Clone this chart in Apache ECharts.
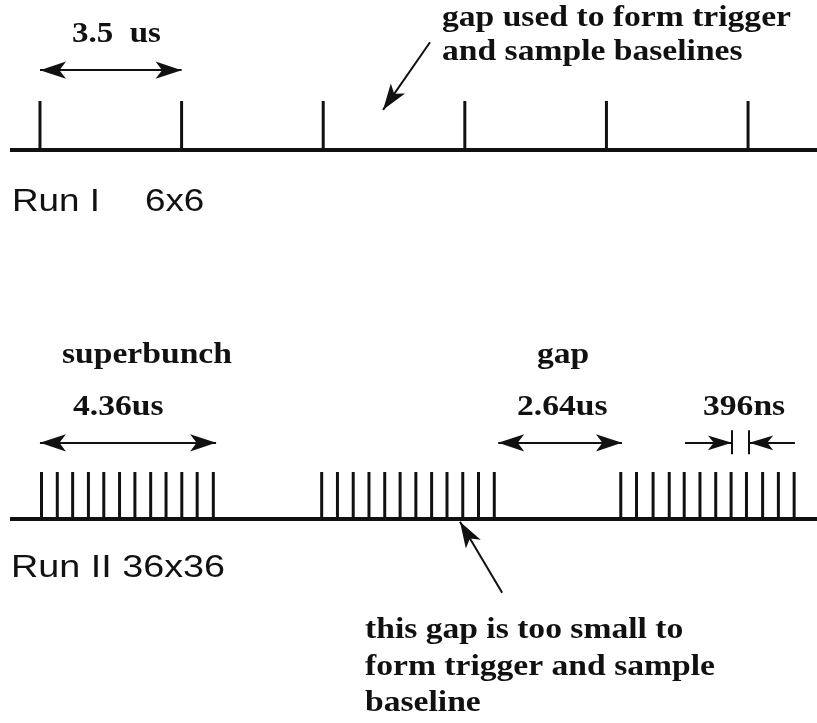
<!DOCTYPE html>
<html>
<head>
<meta charset="utf-8">
<script src="https://cdn.jsdelivr.net/npm/echarts@6/dist/echarts.min.js"></script>
<style>
html, body { margin: 0; padding: 0; background: #fff; }
#chart { width: 817px; height: 723px; }
</style>
</head>
<body>
<div id="chart"></div>
<script>
// Run I 6x6 : bunch times (us)
var runIBunches = [0, 3.5, 7, 10.5, 14, 17.5];
// Run II 36x36 : three superbunches of 12 bunches (us)
var runIITrain1 = [0, 0.40, 0.79, 1.19, 1.58, 1.98, 2.37, 2.77, 3.16, 3.56, 3.95, 4.36];
var runIITrain2 = [7.11, 7.51, 7.91, 8.31, 8.71, 9.10, 9.50, 9.90, 10.29, 10.69, 11.09, 11.49];
var runIITrain3 = [14.70, 15.10, 15.52, 15.93, 16.31, 16.71, 17.11, 17.50, 17.89, 18.30, 18.70, 19.10];

// dimension arrows [from, to] in us, and their height (bunch height = 1)
var runISpan = [0, 3.5];
var runIArrowY = 1.63;
var superbunchSpan = [-0.04, 4.43];
var gapSpan = [11.59, 14.73];
var bunchSpan = [17.52, 17.96];
var runIIArrowY = 1.62;

// pointer arrows [[x, y] tail, [x, y] head]
var runIPointer = [[9.64, 2.20], [8.48, 0.82]];
var runIIPointer = [[11.69, -1.57], [10.62, -0.06]];

var ink = '#111';
var myChart = echarts.init(document.getElementById('chart'));

var headBig = [13, 26];
var headSmall = [11, 24];

function end(coord, head) {
    if (!head) return { coord: coord, symbol: 'none' };
    return { coord: coord, symbol: 'arrow', symbolSize: head };
}
// double headed dimension arrow
function span(s, y, head) {
    return [end([s[0], y], head), end([s[1], y], head)];
}
// single headed pointer
function pointer(p, head) {
    return [end(p[0], null), end(p[1], head)];
}
function stop(x, y0, y1) {
    return [end([x, y0], null), end([x, y1], null)];
}

var markBase = {
    silent: true,
    animation: false,
    label: { show: false },
    emphasis: { disabled: true },
    lineStyle: { color: ink, width: 2, type: 'solid' }
};

var serif = 'bold 30px "Liberation Serif", serif';
var sans = '32px "Liberation Sans", Arial, sans-serif';
function txt(str, x, y, font, sx) {
    return {
        type: 'text', x: x, y: y, scaleX: sx, silent: true,
        style: { text: str, font: font, fill: ink, align: 'left', verticalAlign: 'middle' }
    };
}

var option = {
    animation: false,
    backgroundColor: '#fff',
    grid: [
        { left: 10, right: 0, top: 3, height: 196 },
        { left: 10, right: 0, top: 425, height: 188 }
    ],
    xAxis: [
        { gridIndex: 0, type: 'value', min: -0.741, max: 19.204, show: false },
        { gridIndex: 1, type: 'value', min: -0.8, max: 19.68, show: false }
    ],
    yAxis: [
        { gridIndex: 0, type: 'value', min: -1, max: 3, show: false },
        { gridIndex: 1, type: 'value', min: -2, max: 2, show: false }
    ],
    series: [
        {
            // Run I time line
            type: 'line', xAxisIndex: 0, yAxisIndex: 0, silent: true,
            symbol: 'none', clip: false,
            lineStyle: { color: ink, width: 4 },
            data: [[-0.741, 0], [19.204, 0]],
            markLine: Object.assign({}, markBase, {
                data: [
                    span(runISpan, runIArrowY, headBig),
                    pointer(runIPointer, headBig)
                ]
            })
        },
        {
            type: 'bar', xAxisIndex: 0, yAxisIndex: 0, silent: true,
            barWidth: 3,
            itemStyle: { color: ink },
            data: runIBunches.map(function (t) { return [t, 1]; })
        },
        {
            // Run II time line
            type: 'line', xAxisIndex: 1, yAxisIndex: 1, silent: true,
            symbol: 'none', clip: false,
            lineStyle: { color: ink, width: 4 },
            data: [[-0.8, 0], [19.68, 0]],
            markLine: Object.assign({}, markBase, {
                data: [
                    span(superbunchSpan, runIIArrowY, headBig),
                    span(gapSpan, runIIArrowY, headBig),
                    [end([bunchSpan[0] - 1.19, runIIArrowY], null), end([bunchSpan[0], runIIArrowY], headSmall)],
                    [end([bunchSpan[1] + 1.16, runIIArrowY], null), end([bunchSpan[1], runIIArrowY], headSmall)],
                    stop(bunchSpan[0], 1.38, 1.89),
                    stop(bunchSpan[1], 1.38, 1.89),
                    pointer(runIIPointer, headBig)
                ]
            })
        },
        {
            type: 'bar', xAxisIndex: 1, yAxisIndex: 1, silent: true,
            barWidth: 3,
            itemStyle: { color: ink },
            data: runIITrain1.concat(runIITrain2, runIITrain3).map(function (t) { return [t, 1]; })
        }
    ],
    graphic: [
        txt('3.5  us', 72, 34, serif, 1.1),
        txt('gap used to form trigger', 442, 18, serif, 1.12),
        txt('and sample baselines', 442, 52, serif, 1.12),
        txt('Run I', 12, 202, sans, 1.15),
        txt('6x6', 145, 202, sans, 1.15),
        txt('superbunch', 62, 355, serif, 1.12),
        txt('4.36us', 73, 407, serif, 1.12),
        txt('gap', 537, 355, serif, 1.12),
        txt('2.64us', 517, 407, serif, 1.12),
        txt('396ns', 703, 407, serif, 1.12),
        txt('Run II 36x36', 11, 568, sans, 1.18),
        txt('this gap is too small to', 365, 630, serif, 1.12),
        txt('form trigger and sample', 365, 667, serif, 1.12),
        txt('baseline', 365, 703, serif, 1.12)
    ]
};

option && myChart.setOption(option);
</script>
</body>
</html>
